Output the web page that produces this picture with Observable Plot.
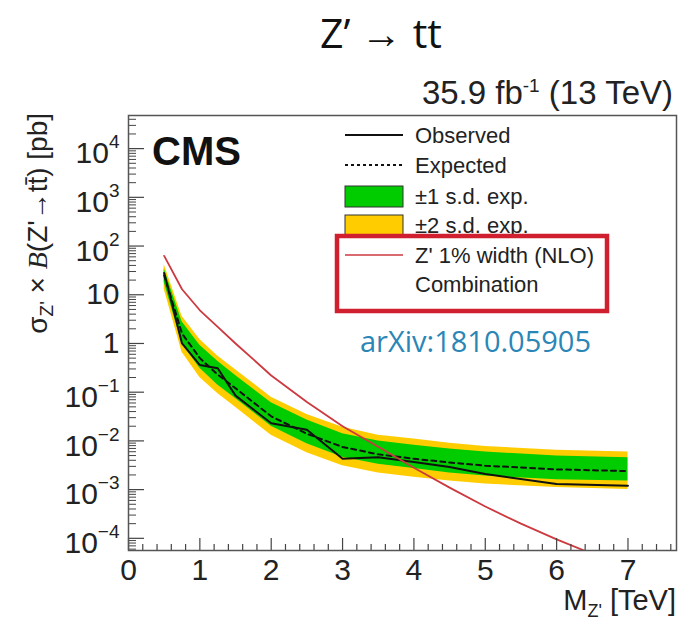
<!DOCTYPE html>
<html><head><meta charset="utf-8">
<script src="https://cdn.jsdelivr.net/npm/d3@7"></script>
<script src="https://cdn.jsdelivr.net/npm/@observablehq/plot@0.6"></script>
<style>
body{margin:0;background:#fff;}
#chart{width:682px;height:623px;}
</style></head><body><div id="chart"></div>
<script>
// ---- data ----
const massPoints = [0.5, 0.75, 1, 1.25, 1.5, 2, 2.5, 3, 3.5, 4, 4.5, 5, 6, 7];
const observed  = [28, 1.0, 0.36, 0.31, 0.085, 0.023, 0.017, 0.0043, 0.0046, 0.0037, 0.0029, 0.0021, 0.0013, 0.0012];
const expected  = [25, 1.6, 0.5, 0.23, 0.12, 0.032, 0.014, 0.0075, 0.0053, 0.0043, 0.0036, 0.0031, 0.0026, 0.0024];
const minus2sd  = [13, 0.66, 0.2, 0.094, 0.049, 0.013, 0.0057, 0.0031, 0.0022, 0.0018, 0.0015, 0.0013, 0.0011, 0.001];
const minus1sd  = [18, 1.0, 0.31, 0.14, 0.074, 0.02, 0.0087, 0.0046, 0.0033, 0.0027, 0.0022, 0.0019, 0.0016, 0.0015];
const plus1sd   = [34, 2.8, 0.92, 0.43, 0.22, 0.061, 0.027, 0.014, 0.01, 0.0081, 0.0068, 0.0059, 0.0049, 0.0045];
const plus2sd   = [42, 3.6, 1.2, 0.55, 0.29, 0.079, 0.035, 0.019, 0.013, 0.011, 0.0089, 0.0077, 0.0064, 0.0059];
const theoryMass = [0.5, 0.75, 1, 1.25, 1.5, 1.75, 2, 2.5, 3, 3.5, 4, 4.5, 5, 5.5, 6, 6.5, 7];
const theoryXsec = [63, 13, 4.8, 2.2, 1.0, 0.47, 0.22, 0.063, 0.02, 0.0076, 0.0028, 0.0011, 0.00045, 0.0002, 0.000095, 0.000048, 0.000025];
const xTickValues = [0, 1, 2, 3, 4, 5, 6, 7];
const xTickLabels = ["0", "1", "2", "3", "4", "5", "6", "7"];
const yTickValues = [1e-4, 1e-3, 1e-2, 1e-1, 1, 10, 1e2, 1e3, 1e4];
const yTickLabels = ["10^−4", "10^−3", "10^−2", "10^−1", "1", "10", "10^2", "10^3", "10^4"];
const legendLabels = ["Observed", "Expected", "±1 s.d. exp.", "±2 s.d. exp.", "Z' 1% width (NLO)", "Combination"];

// minor ticks (axis decoration)
const xMinor = [];
for (let i = 0; i <= 38; i++) if (i % 5) xMinor.push(i / 5);
const yMinor = [];
for (let e = -5; e <= 4; e++) for (let k = 2; k <= 9; k++) { const v = k * Math.pow(10, e); if (v > 5.6e-5 && v < 4.7e4) yMinor.push(v); }

const rows = massPoints.map((m, i) => ({m, obs: observed[i], exp: expected[i], m2: minus2sd[i], m1: minus1sd[i], p1: plus1sd[i], p2: plus2sd[i]}));
const theory = theoryMass.map((m, i) => ({m, xs: theoryXsec[i]}));

const W = 682, H = 623, mL = 128, mR = 6, mT = 115, mB = 73;
const innerW = W - mL - mR, innerH = H - mT - mB;
const FONT = "'Liberation Sans', Arial, Helvetica, sans-serif";

const svg = Plot.plot({
  width: W, height: H,
  marginLeft: mL, marginRight: mR, marginTop: mT, marginBottom: mB,
  style: {fontFamily: FONT, background: "white", overflow: "visible"},
  x: {domain: [0, 7.68], axis: null},
  y: {type: "log", domain: [Math.pow(10, -4.25), Math.pow(10, 4.68)], axis: null},
  marks: [
    Plot.areaY(rows, {x: "m", y1: "m2", y2: "p2", fill: "#ffcc00"}),
    Plot.areaY(rows, {x: "m", y1: "m1", y2: "p1", fill: "#00cc00"}),
    Plot.line(rows, {x: "m", y: "exp", stroke: "#111", strokeWidth: 2, strokeDasharray: "5,4"}),
    Plot.line(rows, {x: "m", y: "obs", stroke: "#111", strokeWidth: 2}),
    Plot.line(theory, {x: "m", y: "xs", stroke: "#cc3a40", strokeWidth: 1.8, clip: true}),
    Plot.ruleX(xTickValues, {x: d => d, insetTop: innerH - 12, stroke: "#444", strokeWidth: 1.2}),
    Plot.ruleX(xMinor, {x: d => d, insetTop: innerH - 6, stroke: "#444", strokeWidth: 1.2}),
    Plot.ruleY(yTickValues, {y: d => d, insetRight: innerW - 16, stroke: "#444", strokeWidth: 1.2}),
    Plot.ruleY(yMinor, {y: d => d, insetRight: innerW - 8, stroke: "#444", strokeWidth: 1}),
    Plot.frame({stroke: "#555", strokeWidth: 1.5}),
    Plot.text(xTickValues, {x: d => d, text: (d, i) => xTickLabels[i], frameAnchor: "bottom", lineAnchor: "top", dy: 8, fontSize: 30, fill: "#222"}),
    Plot.text(yTickValues, {y: d => d, text: (d, i) => yTickLabels[i], frameAnchor: "left", textAnchor: "end", dx: -9, fontSize: 30, fill: "#222"})
  ]
});

// superscripts on tick labels
d3.select(svg).selectAll("text").each(function() {
  const t = this.textContent;
  if (t.includes("^")) {
    const [base, ex] = t.split("^");
    const sel = d3.select(this);
    sel.text(null);
    sel.append("tspan").attr("dy", 5).text(base);
    sel.append("tspan").attr("dy", -15).attr("font-size", 19).text(ex);
  }
});

const g = d3.select(svg).append("g").attr("font-family", FONT).attr("fill", "#222").attr("text-anchor", "start");

// title and lumi
g.append("text").attr("x", 381).attr("y", 48).attr("text-anchor", "middle")
  .attr("font-family", "'Open Sans', sans-serif").attr("font-size", 41).attr("fill", "#111").text("Z’ → tt");
const lumi = g.append("text").attr("x", 673).attr("y", 104).attr("text-anchor", "end").attr("font-size", 33);
lumi.append("tspan").text("35.9 fb");
lumi.append("tspan").attr("font-size", 19).attr("dy", -12).text("-1");
lumi.append("tspan").attr("dy", 12).text(" (13 TeV)");

// CMS
g.append("text").attr("x", 152).attr("y", 165).attr("font-size", 40).attr("font-weight", "bold").attr("fill", "#111").text("CMS");

// legend
const LX1 = 345, LX2 = 403, TX = 415;
const rowsY = [135, 165, 196, 225, 255, 284];
g.append("line").attr("x1", LX1).attr("x2", LX2).attr("y1", rowsY[0]).attr("y2", rowsY[0]).attr("stroke", "#111").attr("stroke-width", 2);
g.append("line").attr("x1", LX1).attr("x2", LX2).attr("y1", rowsY[1]).attr("y2", rowsY[1]).attr("stroke", "#111").attr("stroke-width", 2).attr("stroke-dasharray", "3,3");
g.append("rect").attr("x", LX1).attr("y", 186).attr("width", LX2 - LX1).attr("height", 21).attr("fill", "#00cc00").attr("stroke", "#333");
g.append("rect").attr("x", LX1).attr("y", 215).attr("width", LX2 - LX1).attr("height", 21).attr("fill", "#ffcc00").attr("stroke", "#333");
g.append("line").attr("x1", LX1).attr("x2", LX2).attr("y1", rowsY[4]).attr("y2", rowsY[4]).attr("stroke", "#cc3a40").attr("stroke-width", 1.6);
legendLabels.forEach((lab, i) => {
  g.append("text").attr("x", TX).attr("y", rowsY[i] + 8).attr("font-size", 22).text(lab);
});
g.append("rect").attr("x", 337).attr("y", 236).attr("width", 270).attr("height", 75)
  .attr("fill", "none").attr("stroke", "#d01f2f").attr("stroke-width", 4.5);

// arXiv
g.append("text").attr("x", 360).attr("y", 352).attr("font-family", "'Open Sans', sans-serif")
  .attr("font-size", 29).attr("fill", "#2a86b6").text("arXiv:1810.05905");

// y axis title
const yt = g.append("text").attr("transform", "translate(47,113) rotate(-90)").attr("text-anchor", "end").attr("font-size", 28);
yt.append("tspan").text("σ");
yt.append("tspan").attr("font-size", 19).attr("dy", 6).text("Z'");
yt.append("tspan").attr("dy", -6).text(" × ");
yt.append("tspan").attr("font-style", "italic").attr("font-family", "'Liberation Serif', serif").text("B");
yt.append("tspan").text("(Z'→tt\u0304) [pb]");

// x axis title
const xt = g.append("text").attr("x", 676).attr("y", 610).attr("text-anchor", "end").attr("font-size", 29);
xt.append("tspan").text("M");
xt.append("tspan").attr("font-size", 18).attr("dy", 7).text("Z'");
xt.append("tspan").attr("dy", -7).text(" [TeV]");

document.getElementById("chart").appendChild(svg);
</script></body></html>
